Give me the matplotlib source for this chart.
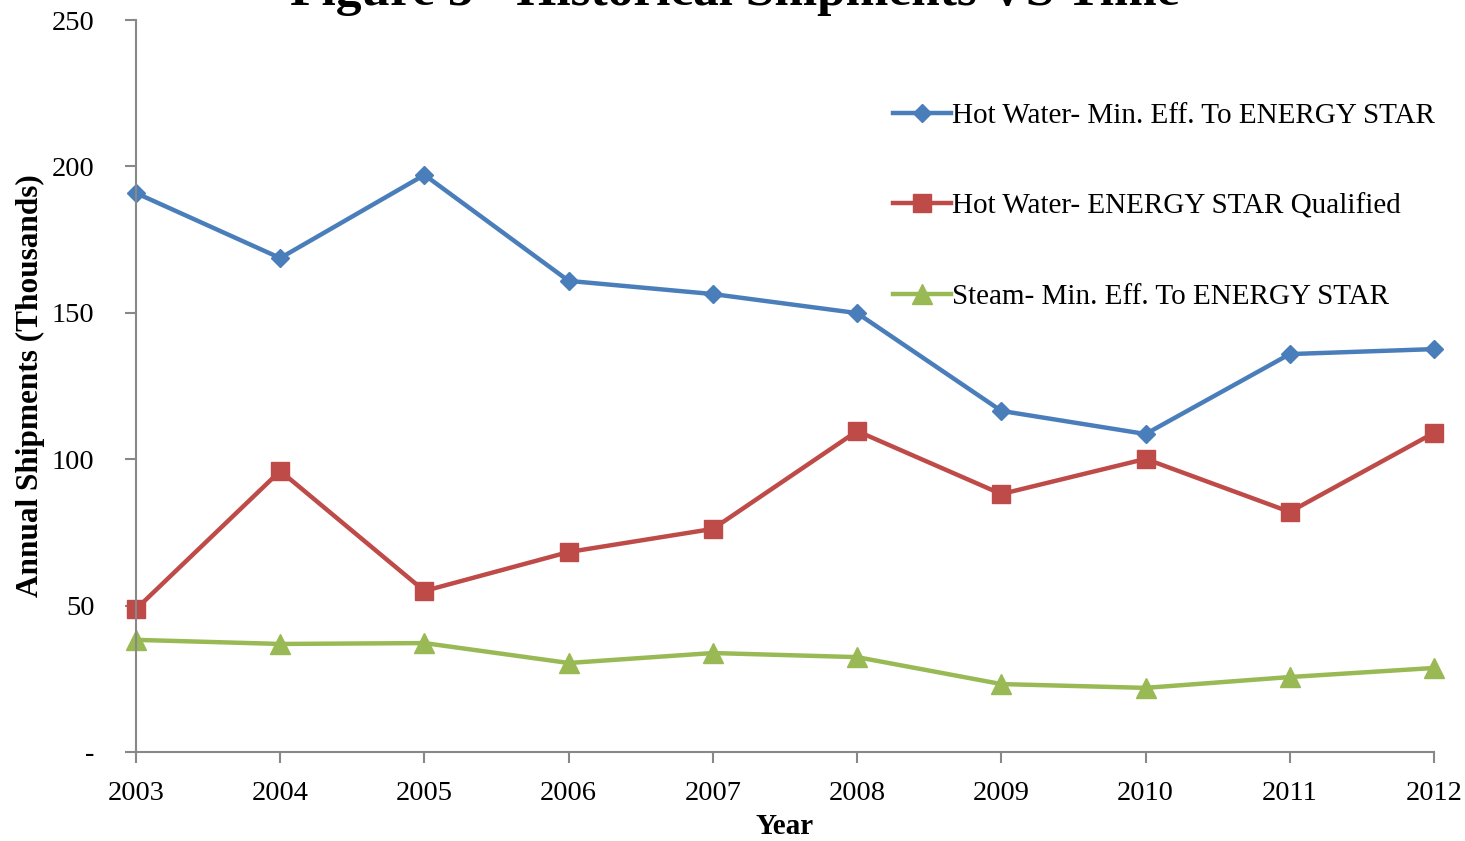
import matplotlib
matplotlib.use("Agg")
import matplotlib.pyplot as plt

years = [2003, 2004, 2005, 2006, 2007, 2008, 2009, 2010, 2011, 2012]
hot_min_eff = [190.9, 168.7, 197.1, 160.9, 156.4, 149.9, 116.5, 108.6, 135.9, 137.6]
hot_estar = [48.8, 96.0, 55.0, 68.3, 76.2, 109.6, 88.1, 100.1, 82.0, 109.0]
steam_min_eff = [38.3, 36.9, 37.2, 30.4, 33.8, 32.4, 23.2, 21.9, 25.6, 28.7]

labels = ["Hot Water- Min. Eff. To ENERGY STAR",
          "Hot Water- ENERGY STAR Qualified",
          "Steam- Min. Eff. To ENERGY STAR"]
yticks = [0, 50, 100, 150, 200, 250]
ytick_labels = ["-", "50", "100", "150", "200", "250"]

plt.rcParams['font.family'] = ['Liberation Serif', 'DejaVu Serif']

W, H = 1465, 841
fig = plt.figure(figsize=(W / 100, H / 100), dpi=100)
ax = fig.add_axes([136 / W, 1 - 752 / H, (1434 - 136) / W, (752 - 20) / H])

ax.plot(years, hot_min_eff, color='#4A7EBB', lw=3.2, marker='D', ms=9, label=labels[0])
ax.plot(years, hot_estar, color='#BE4B48', lw=3.2, marker='s', ms=13, label=labels[1])
ax.plot(years, steam_min_eff, color='#98B954', lw=3.2, marker='^', ms=14, label=labels[2])

ax.set_xlim(2003, 2012)
ax.set_ylim(0, 250)
ax.set_xticks(years)
ax.set_xticklabels([str(y) for y in years], fontsize=20.5)
ax.set_yticks(yticks)
ax.set_yticklabels(ytick_labels, fontsize=20.5)
for s in ['top', 'right']:
    ax.spines[s].set_visible(False)
for s in ['left', 'bottom']:
    ax.spines[s].set_color('#888888')
    ax.spines[s].set_linewidth(1.5)
ax.tick_params(axis='both', direction='out', length=8, width=1.5, color='#888888')
ax.tick_params(axis='x', pad=13)
ax.tick_params(axis='y', pad=22)
for c in ax.get_lines():
    c.set_clip_on(False)

ax.set_xlabel("Year", fontsize=21, fontweight='bold', labelpad=5)
ax.set_ylabel("Annual Shipments (Thousands)", fontsize=22.5, fontweight='bold', labelpad=5)

fig.text(735 / W, 1 - 5 / H, "Figure 5 - Historical Shipments VS Time",
         fontsize=37, fontweight='bold', ha='center', va='baseline')

leg = ax.legend(loc='upper left', bbox_to_anchor=(878 / W, 1 - 88 / H),
                bbox_transform=fig.transFigure, frameon=False, fontsize=21,
                handlelength=2.0, handletextpad=0.05, labelspacing=2.2, borderpad=0)

fig.savefig("out.png", dpi=100)
